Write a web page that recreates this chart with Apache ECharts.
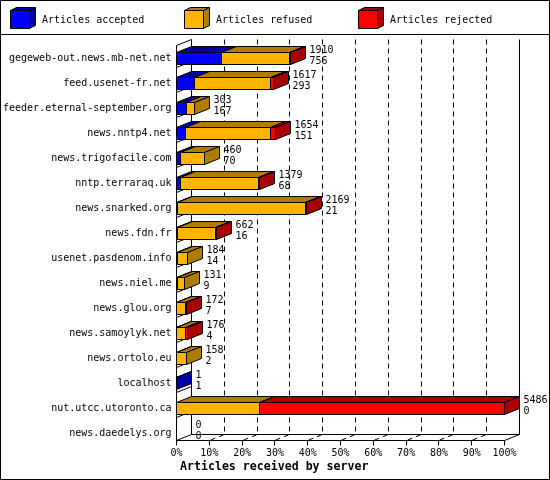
<!DOCTYPE html>
<html><head><meta charset="utf-8">
<script src="https://cdn.jsdelivr.net/npm/echarts@6/dist/echarts.min.js"></script>
<style>html,body{margin:0;padding:0;background:#fff}#c{width:550px;height:480px}</style>
</head><body><div id="c"></div>
<script>
const categories = ['gegeweb-out.news.mb-net.net','feed.usenet-fr.net','feeder.eternal-september.org','news.nntp4.net','news.trigofacile.com','nntp.terraraq.uk','news.snarked.org','news.fdn.fr','usenet.pasdenom.info','news.niel.me','news.glou.org','news.samoylyk.net','news.ortolo.eu','localhost','nut.utcc.utoronto.ca','news.daedelys.org'];
const totals   = [1910,1617,303,1654,460,1379,2169,662,184,131,172,176,158,1,5486,0];
const accepted = [756,293,167,151,70,68,21,16,14,9,7,4,2,1,0,0];
const refused  = [1126,1279,136,1428,390,1299,2143,631,170,122,150,151,156,0,1386,0];
const rejected = [28,45,0,75,0,12,5,15,0,0,15,21,0,0,4100,0];
const tickLabels = ['0%','10%','20%','30%','40%','50%','60%','70%','80%','90%','100%'];
const seriesNames = ['Articles accepted','Articles refused','Articles rejected'];

const FONT = '"DejaVu Sans Mono", monospace';
const DX = 15, DY = 6, BAR_H = 12;
const COLORS = [['#0000ff','#0000a6'],['#ffb400','#b07c00'],['#ff0000','#a80000']];
const maxTotal = Math.max.apply(null, totals);
const step = maxTotal / 10;
function cr(v){ return Math.floor(v) + 0.5; }
const ST = {stroke:'#000', lineWidth:1};

function segRender(fill, dark) {
  return function (params, api) {
    const cat = api.value(0), s = api.value(1), e = api.value(2);
    if (!(e > s)) return null;
    const a = api.coord([s, cat]), b = api.coord([e, cat]);
    const x0 = cr(a[0]), x1 = cr(b[0]);
    const top = cr(a[1] - BAR_H / 2), bot = top + BAR_H;
    return {type:'group', children:[
      {type:'polygon', shape:{points:[[x0,top],[x0+DX,top-DY],[x1+DX,top-DY],[x1,top]]}, style:Object.assign({fill:dark}, ST)},
      {type:'polygon', shape:{points:[[x1,top],[x1+DX,top-DY],[x1+DX,bot-DY],[x1,bot]]}, style:Object.assign({fill:dark}, ST)},
      {type:'rect', shape:{x:x0,y:top,width:x1-x0,height:BAR_H}, style:Object.assign({fill:fill}, ST)}
    ]};
  };
}

function frameRender(params, api) {
  const cs = params.coordSys;
  const L = cr(cs.x), R = cr(cs.x + cs.width);
  const fTop = cr(cs.y) - 1, fFloor = cr(cs.y + cs.height) - 6;
  const bTop = fTop - DY, bFloor = fFloor - DY;
  const ch = [];
  const line = (x1,y1,x2,y2) => ch.push({type:'line', shape:{x1,y1,x2,y2}, style:Object.assign({}, ST)});
  for (let k = 1; k < 10; k++) {
    const x = cr(api.coord([k * step, 0])[0]);
    ch.push({type:'polyline', shape:{points:[[x+DX,bTop],[x+DX,bFloor],[x,fFloor]]}, style:Object.assign({fill:null, lineDash:[5,4]}, ST)});
  }
  for (let k = 0; k <= 10; k++) {
    const x = cr(api.coord([k * step, 0])[0]);
    line(x, fFloor, x, fFloor + 5);
  }
  const bw = api.size([0, 1])[1];
  for (let i = 1; i < categories.length; i++) {
    const yb = cr(api.coord([0, i])[1] - bw / 2) - 4;
    line(L, yb, L + DX, yb - DY);
  }
  line(L+DX, bTop, L+DX, bFloor);
  line(R+DX, bTop, R+DX, bFloor);
  line(L+DX, bFloor, R+DX, bFloor);
  line(L, fTop, L, fFloor);
  line(L, fFloor, R, fFloor);
  line(L, fFloor, L+DX, bFloor);
  line(R, fFloor, R+DX, bFloor);
  line(L, fTop, L+DX, bTop);
  return {type:'group', children: ch};
}

function labelRender(params, api) {
  const cat = api.value(0), t = api.value(1), acc = api.value(2);
  const p = api.coord([t, cat]);
  return {type:'text', x: cr(p[0]) + DX + 4, y: p[1] - 3,
    style:{text: String(t) + '\n' + String(acc), font: '10px ' + FONT, fill:'#000', lineHeight: 11, verticalAlign:'middle', align:'left'}};
}

const segData = [[],[],[]];
const labelData = [];
for (let i = 0; i < categories.length; i++) {
  segData[0].push([i, 0, accepted[i]]);
  segData[1].push([i, accepted[i], accepted[i] + refused[i]]);
  segData[2].push([i, accepted[i] + refused[i], accepted[i] + refused[i] + rejected[i]]);
  labelData.push([i, totals[i], accepted[i]]);
}

const legendGraphics = [];
for (let j = 0; j < 3; j++) {
  const x = 10.5 + j * 174, y = 10.5;
  legendGraphics.push({type:'polygon', shape:{points:[[x,y],[x+6,y-3],[x+25,y-3],[x+19,y]]}, style:Object.assign({fill:COLORS[j][1]}, ST)});
  legendGraphics.push({type:'polygon', shape:{points:[[x+19,y],[x+25,y-3],[x+25,y+15],[x+19,y+18]]}, style:Object.assign({fill:COLORS[j][1]}, ST)});
  legendGraphics.push({type:'rect', shape:{x:x,y:y,width:19,height:18}, style:Object.assign({fill:COLORS[j][0]}, ST)});
  legendGraphics.push({type:'text', x: x + 31.5, y: 20, style:{text: seriesNames[j], font:'10px ' + FONT, fill:'#000', verticalAlign:'middle'}});
}
legendGraphics.push({type:'rect', shape:{x:0.5,y:0.5,width:549,height:479}, style:{fill:null, stroke:'#000', lineWidth:1}});
legendGraphics.push({type:'line', shape:{x1:0,y1:34.5,x2:550,y2:34.5}, style:{stroke:'#000', lineWidth:1}});

const chart = echarts.init(document.getElementById('c'), null, {renderer:'canvas'});
chart.setOption({
  animation:false,
  backgroundColor:'#fff',
  title:{text:'Articles received by server', left:180, top:460, padding:0, textStyle:{fontFamily:FONT, fontSize:11.6, fontWeight:'bold', color:'#000', lineHeight:14}},
  grid:{left:176.5, top:46, width:328, height:400},
  xAxis:{type:'value', min:0, max:maxTotal, interval:step,
    axisLine:{show:false}, axisTick:{show:false}, splitLine:{show:false},
    axisLabel:{margin:2, fontFamily:FONT, fontSize:10, color:'#000', showMaxLabel:true, showMinLabel:true,
      formatter:(v)=> tickLabels[Math.round(v / step)]}},
  yAxis:{type:'category', data:categories, inverse:true,
    axisLine:{show:false}, axisTick:{show:false}, splitLine:{show:false},
    axisLabel:{margin:5, fontFamily:FONT, fontSize:10, color:'#000'}},
  graphic: legendGraphics,
  series:[
    {type:'custom', name:'frame', renderItem:frameRender, data:[[0,0]], silent:true, clip:false},
    {type:'custom', name:seriesNames[0], renderItem:segRender(COLORS[0][0],COLORS[0][1]), data:segData[0], encode:{x:[1,2], y:0}, clip:false},
    {type:'custom', name:seriesNames[1], renderItem:segRender(COLORS[1][0],COLORS[1][1]), data:segData[1], encode:{x:[1,2], y:0}, clip:false},
    {type:'custom', name:seriesNames[2], renderItem:segRender(COLORS[2][0],COLORS[2][1]), data:segData[2], encode:{x:[1,2], y:0}, clip:false},
    {type:'custom', name:'labels', renderItem:labelRender, data:labelData, encode:{x:1, y:0}, clip:false}
  ]
});
</script>
</body></html>
